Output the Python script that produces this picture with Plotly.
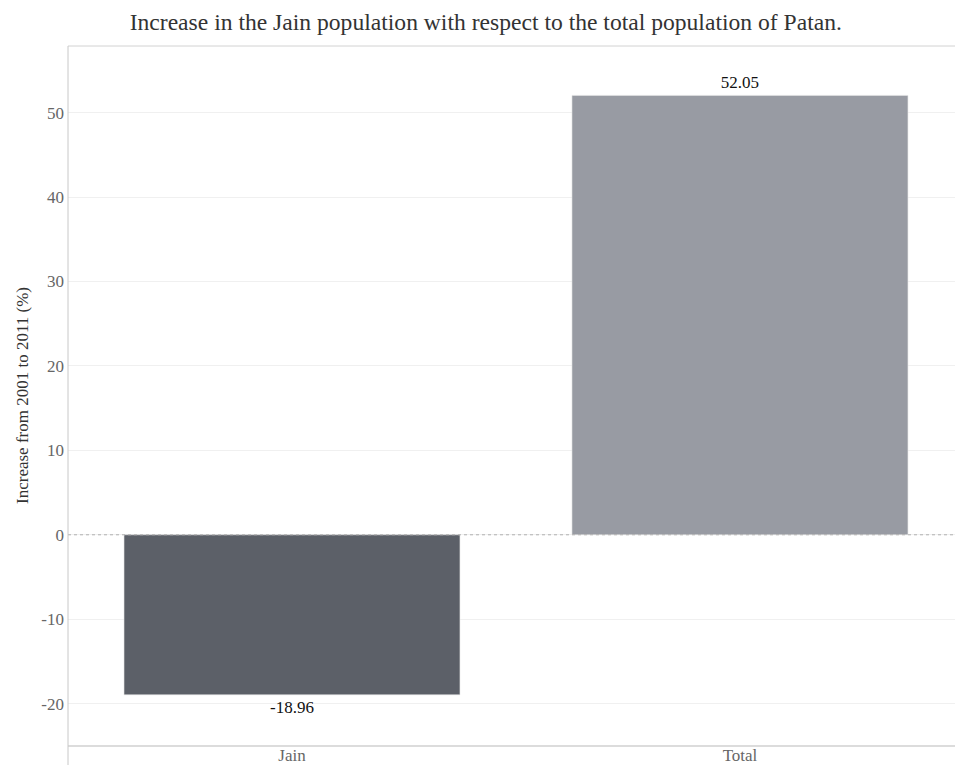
import plotly.graph_objects as go

categories = ["Jain", "Total"]
values = [-18.96, 52.05]
labels = ["-18.96", "52.05"]
bar_colors = ["#5c6068", "#989ba3"]
y_ticks = [-20, -10, 0, 10, 20, 30, 40, 50]
y_tick_text = ["-20", "-10", "0", "10", "20", "30", "40", "50"]

SERIF = "Liberation Serif, Times New Roman, serif"

fig = go.Figure()
fig.add_trace(go.Bar(
    x=categories,
    y=values,
    width=0.75,
    marker=dict(color=bar_colors, line=dict(color="#e6e6e6", width=0.6)),
    text=labels,
    textposition="outside",
    textfont=dict(family=SERIF, size=17, color="#111111"),
    cliponaxis=False,
    hoverinfo="x+y",
))

fig.add_shape(type="line", xref="paper", yref="y", x0=0, x1=1, y0=0, y1=0,
              line=dict(color="#b0b0b0", width=1, dash="dot"), layer="above")
fig.add_shape(type="line", xref="paper", yref="paper", x0=0, x1=1, y0=1, y1=1,
              line=dict(color="#d2d2d2", width=1))
fig.add_shape(type="line", xref="paper", yref="paper", x0=0, x1=0, y0=-0.03, y1=1,
              line=dict(color="#c8c8c8", width=1))

fig.update_layout(
    width=955, height=765,
    margin=dict(l=68, r=0, t=46, b=20, pad=0),
    paper_bgcolor="white", plot_bgcolor="white",
    showlegend=False,
    title=dict(text="Increase in the Jain population with respect to the total population of Patan.",
               x=0.471, xref="paper", xanchor="center", y=0.971, yanchor="middle",
               font=dict(family=SERIF, size=23.6, color="#333333")),
    xaxis=dict(range=[-0.5, 1.48], showgrid=False, zeroline=False,
               showline=True, linecolor="#dcdcdc", linewidth=2,
               ticks="", ticklabelstandoff=-6,
               tickfont=dict(family=SERIF, size=17, color="#666666"),
               automargin=False, fixedrange=True),
    yaxis=dict(range=[-24.9, 57.9], tickvals=y_ticks, ticktext=y_tick_text,
               showgrid=True, gridcolor="#f0f0f0", gridwidth=1, zeroline=False,
               showline=False, ticks="", ticklabelstandoff=3,
               tickfont=dict(family=SERIF, size=17, color="#666666"),
               title=dict(text="Increase from 2001 to 2011 (%)", standoff=8,
                          font=dict(family=SERIF, size=17, color="#333333")),
               automargin=False, fixedrange=True),
    bargap=0.25,
)

fig.write_html("out.html")
